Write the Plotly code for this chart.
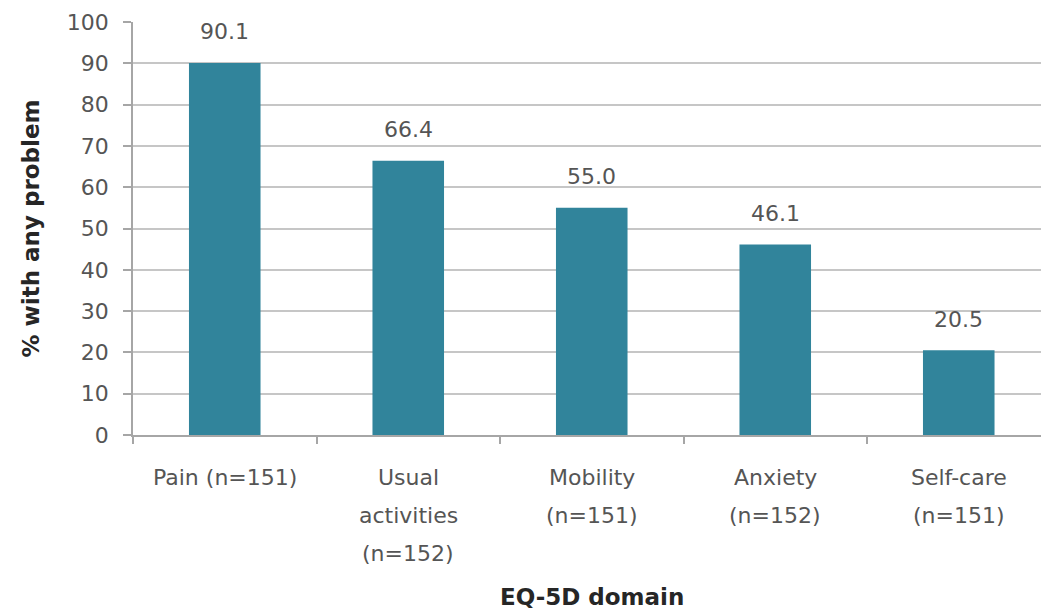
import plotly.graph_objects as go

# EQ-5D domains, share of respondents reporting any problem
domains = ["Pain (n=151)", "Usual<br>activities<br>(n=152)", "Mobility<br>(n=151)",
           "Anxiety<br>(n=152)", "Self-care<br>(n=151)"]
pct_any_problem = [90.1, 66.4, 55.0, 46.1, 20.5]
y_ticks = [0, 10, 20, 30, 40, 50, 60, 70, 80, 90, 100]

BAR = "#31849B"
GRID = "#C6C6C6"
AXIS = "#A6A6A6"
TXT = "#555555"
FONT = "DejaVu Sans"

W, H = 1041, 611
L, T, B = 133, 22, 176
cat_px = 183.5  # pixel width of one category slot
x_right = -0.5 + (W - L) / cat_px

fig = go.Figure()
fig.add_trace(go.Bar(
    x=list(range(len(domains))),
    y=pct_any_problem,
    marker=dict(color=BAR, line=dict(width=0)),
    hoverinfo="skip",
))

annotations = []
# value labels above each bar
for i, v in enumerate(pct_any_problem):
    annotations.append(dict(
        x=i, y=v, xref="x", yref="y", text=f"{v:.1f}", showarrow=False,
        xanchor="center", yanchor="middle", yshift=31,
        font=dict(family=FONT, size=22, color=TXT),
    ))

# category labels, one annotation per line for Excel-like line spacing
for i, label in enumerate(domains):
    for j, line in enumerate(label.split("<br>")):
        annotations.append(dict(
            x=i, y=0, xref="x", yref="y", text=line, showarrow=False,
            xanchor="center", yanchor="middle", yshift=-42 - 38 * j,
            font=dict(family=FONT, size=22, color=TXT),
        ))

plot_h = H - T - B
plot_w = W - L
annotations.append(dict(
    x=(592 - L) / plot_w, y=(435 - 597) / plot_h, xref="paper", yref="paper",
    text="<b>EQ-5D domain</b>", showarrow=False, xanchor="center", yanchor="middle",
    font=dict(family=FONT, size=23, color="#262626"),
))
annotations.append(dict(
    x=(30 - L) / plot_w, y=0.5, xref="paper", yref="paper",
    text="<b>% with any problem</b>", showarrow=False, textangle=-90,
    xanchor="center", yanchor="middle",
    font=dict(family=FONT, size=23, color="#262626"),
))

# tick marks sit on the boundaries between categories (including the origin)
boundaries = [i - 0.5 for i in range(len(domains) + 1)]

fig.update_layout(
    width=W, height=H,
    margin=dict(l=L, r=0, t=T, b=B, pad=0),
    paper_bgcolor="white", plot_bgcolor="white",
    bargap=0.61, showlegend=False,
    annotations=annotations,
    xaxis=dict(
        range=[-0.5, x_right], tickmode="array", tickvals=boundaries,
        showticklabels=False, ticks="outside", ticklen=7,
        tickcolor=AXIS, tickwidth=1.5, showline=True, linecolor=AXIS, linewidth=1.5,
        showgrid=False, zeroline=False, fixedrange=True,
    ),
    yaxis=dict(
        range=[0, 100], tickmode="array", tickvals=y_ticks,
        ticktext=[str(t) for t in y_ticks],
        ticks="outside", ticklen=8, tickcolor=AXIS, tickwidth=1.5,
        ticklabelstandoff=10,
        showline=True, linecolor=AXIS, linewidth=1.5,
        showgrid=True, gridcolor=GRID, gridwidth=1.5, zeroline=False,
        tickfont=dict(family=FONT, size=22, color=TXT), fixedrange=True,
    ),
)

fig.write_html("out.html", config={"displayModeBar": False})
